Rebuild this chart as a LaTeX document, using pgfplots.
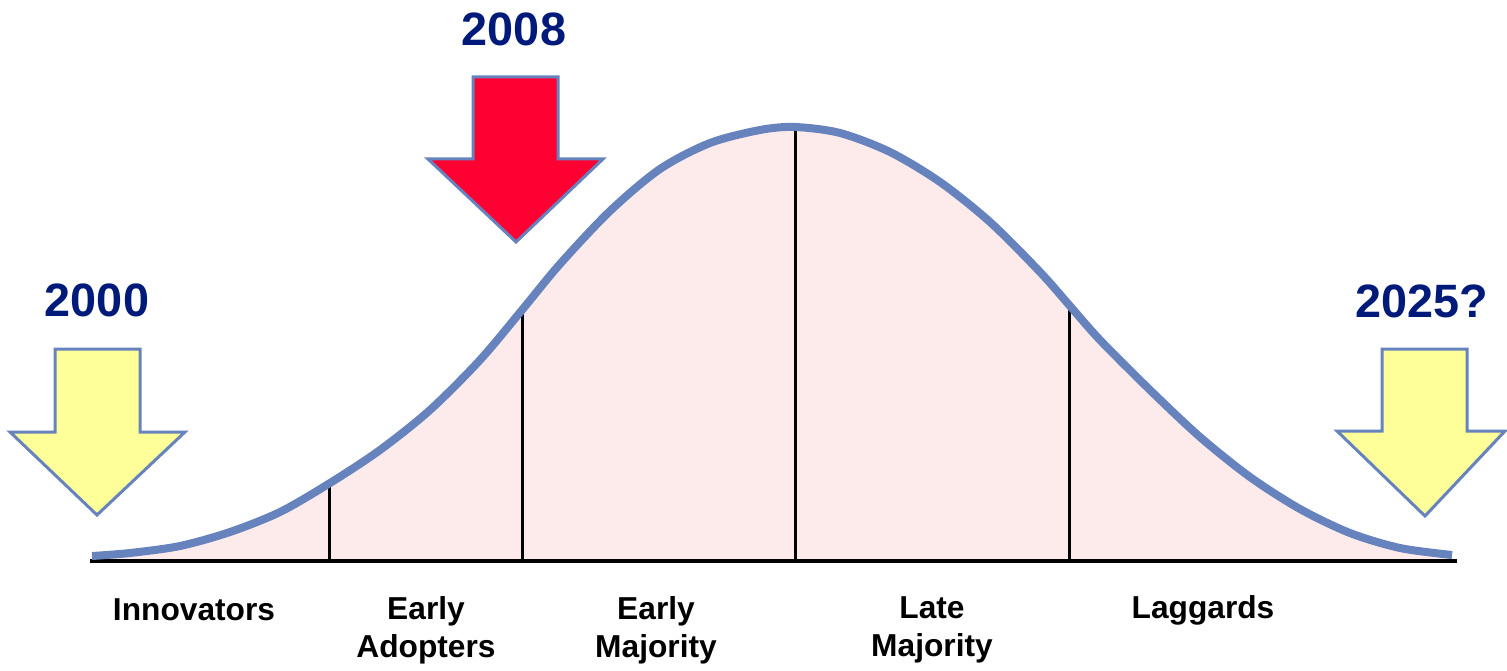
\documentclass[border=0pt]{standalone}
\usepackage{pgfplots}
\pgfplotsset{compat=1.18}
\usepackage{fontspec}
\setmainfont{Liberation Sans}
\definecolor{curveblue}{RGB}{103,131,190}
\definecolor{pinkfill}{RGB}{253,234,234}
\definecolor{arrowyellow}{RGB}{255,255,153}
\definecolor{arrowred}{RGB}{255,0,51}
\definecolor{navy}{RGB}{0,26,122}
\begin{document}
\begin{tikzpicture}
\begin{axis}[
  width=753.5pt, height=332pt, scale only axis,
  xmin=0, xmax=1507, ymin=-104, ymax=560,
  hide axis, clip=false,
]
\path (rel axis cs:0,0) rectangle (rel axis cs:1,1);
% filled area under curve
\addplot[fill=pinkfill, draw=none, smooth, tension=0.5] coordinates {
(92,4)(130,7)(180,14)(230,28)(280,48)(330,77)(380,110)(430,150)(480,200)(522,250)(560,296)(610,349)(660,391)(710,417)(760,430)(795,433)(840,427)(890,408)(940,378)(990,338)(1040,288)(1070,254)(1100,220)(1150,170)(1200,123)(1250,83)(1300,51)(1350,27)(1400,12)(1452,5)
} \closedcycle;
% vertical separators
\addplot[black, line width=1.5pt] coordinates {(329,0)(329,76)};
\addplot[black, line width=1.5pt] coordinates {(522,0)(522,249)};
\addplot[black, line width=1.5pt] coordinates {(795,0)(795,432)};
\addplot[black, line width=1.5pt] coordinates {(1069,0)(1069,253)};
% baseline
\addplot[black, line width=2pt] coordinates {(90,-1)(1457,-1)};
% curve
\addplot[curveblue, line width=4pt, smooth, tension=0.5] coordinates {
(92,4)(130,7)(180,14)(230,28)(280,48)(330,77)(380,110)(430,150)(480,200)(522,250)(560,296)(610,349)(660,391)(710,417)(760,430)(795,433)(840,427)(890,408)(940,378)(990,338)(1040,288)(1070,254)(1100,220)(1150,170)(1200,123)(1250,83)(1300,51)(1350,27)(1400,12)(1452,5)
};
% arrows
\addplot[fill=arrowyellow, draw=curveblue, line width=1.5pt, line join=miter] coordinates {
(55,211)(140,211)(140,128)(185,128)(97,45)(10,128)(55,128)} -- cycle;
\addplot[fill=arrowred, draw=curveblue, line width=1.5pt, line join=miter] coordinates {
(473,483)(558,483)(558,401)(603,401)(516,318)(428,401)(473,401)} -- cycle;
\addplot[fill=arrowyellow, draw=curveblue, line width=1.5pt, line join=miter] coordinates {
(1382,211)(1467,211)(1467,129)(1505,129)(1425,44)(1337,129)(1382,129)} -- cycle;
% year labels
\node[text=navy, font=\bfseries\fontsize{23.4}{28}\selectfont] at (axis cs:97,260) {2000};
\node[text=navy, font=\bfseries\fontsize{23.4}{28}\selectfont] at (axis cs:514,531) {2008};
\node[text=navy, font=\bfseries\fontsize{23.4}{28}\selectfont] at (axis cs:1422,259) {2025?};
% category labels
\node[font=\bfseries\fontsize{15.85}{19}\selectfont, align=center] at (axis cs:194,-50) {Innovators};
\node[font=\bfseries\fontsize{15.85}{19}\selectfont, align=center] at (axis cs:426,-70) {Early\\Adopters};
\node[font=\bfseries\fontsize{15.85}{19}\selectfont, align=center] at (axis cs:656,-70) {Early\\Majority};
\node[font=\bfseries\fontsize{15.85}{19}\selectfont, align=center] at (axis cs:932,-70) {Late\\Majority};
\node[font=\bfseries\fontsize{15.85}{19}\selectfont, align=center] at (axis cs:1203,-50) {Laggards};
\end{axis}
\end{tikzpicture}
\end{document}
